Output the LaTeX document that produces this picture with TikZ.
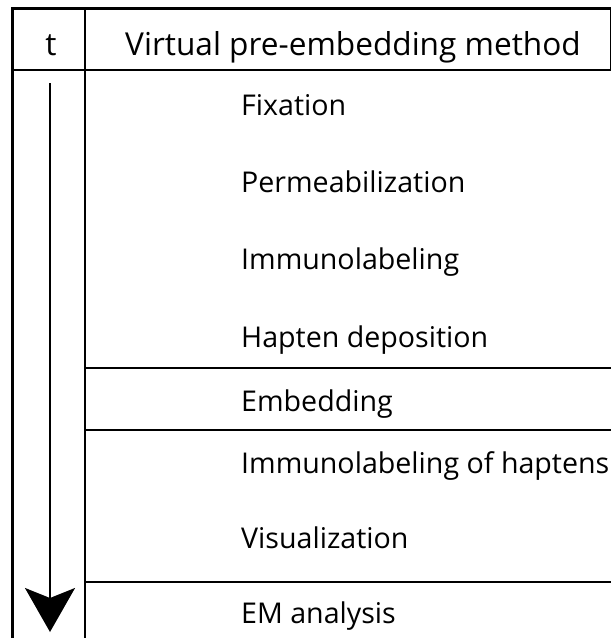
\documentclass[tikz,border=0pt]{standalone}
\usepackage{fontspec}
\setmainfont{Open Sans}
\usetikzlibrary{arrows.meta}
\begin{document}
\begin{tikzpicture}[x=1pt,y=-1pt,
  rule/.style={line width=2pt,black},
  frame/.style={line width=3pt,black},
  lbl/.style={anchor=base west,inner sep=0pt,font=\fontsize{28.6}{32}\selectfont},
  hdr/.style={anchor=base,inner sep=0pt,font=\fontsize{31.6}{34}\selectfont},
  timearrow/.style={line width=2pt,-{Stealth[length=44pt,width=50pt,inset=10pt]}}]
\useasboundingbox (0,0) rectangle (611,638);
% frame
\draw[frame] (12.5,638) -- (12.5,8) -- (611,8);
\draw[rule] (85,8) -- (85,638);
\draw[rule] (12.5,69.5) -- (611,69.5);
\draw[line width=1pt] (610,8) -- (610,69.5);
\draw[rule] (85,368) -- (611,368);
\draw[rule] (85,430) -- (611,430);
\draw[rule] (85,582) -- (611,582);
% header
\node[hdr] (t) at (51,55) {t};
\node[hdr] (head) at (353,55) {Virtual pre-embedding method};
% arrow
\coordinate (astart) at (50,83);
\coordinate (aend) at (50,632);
\draw[timearrow] (astart) -- (aend);
% steps
\node[lbl] (s1) at (241,115) {Fixation};
\node[lbl] (s2) at (241,192) {Permeabilization};
\node[lbl] (s3) at (241,269) {Immunolabeling};
\node[lbl] (s4) at (241,347) {Hapten deposition};
\node[lbl] (s5) at (241,411) {Embedding};
\node[lbl] (s6) at (241,473) {Immunolabeling of haptens};
\node[lbl] (s7) at (241,548) {Visualization};
\node[lbl] (s8) at (241,623) {EM analysis};
\end{tikzpicture}
\end{document}
